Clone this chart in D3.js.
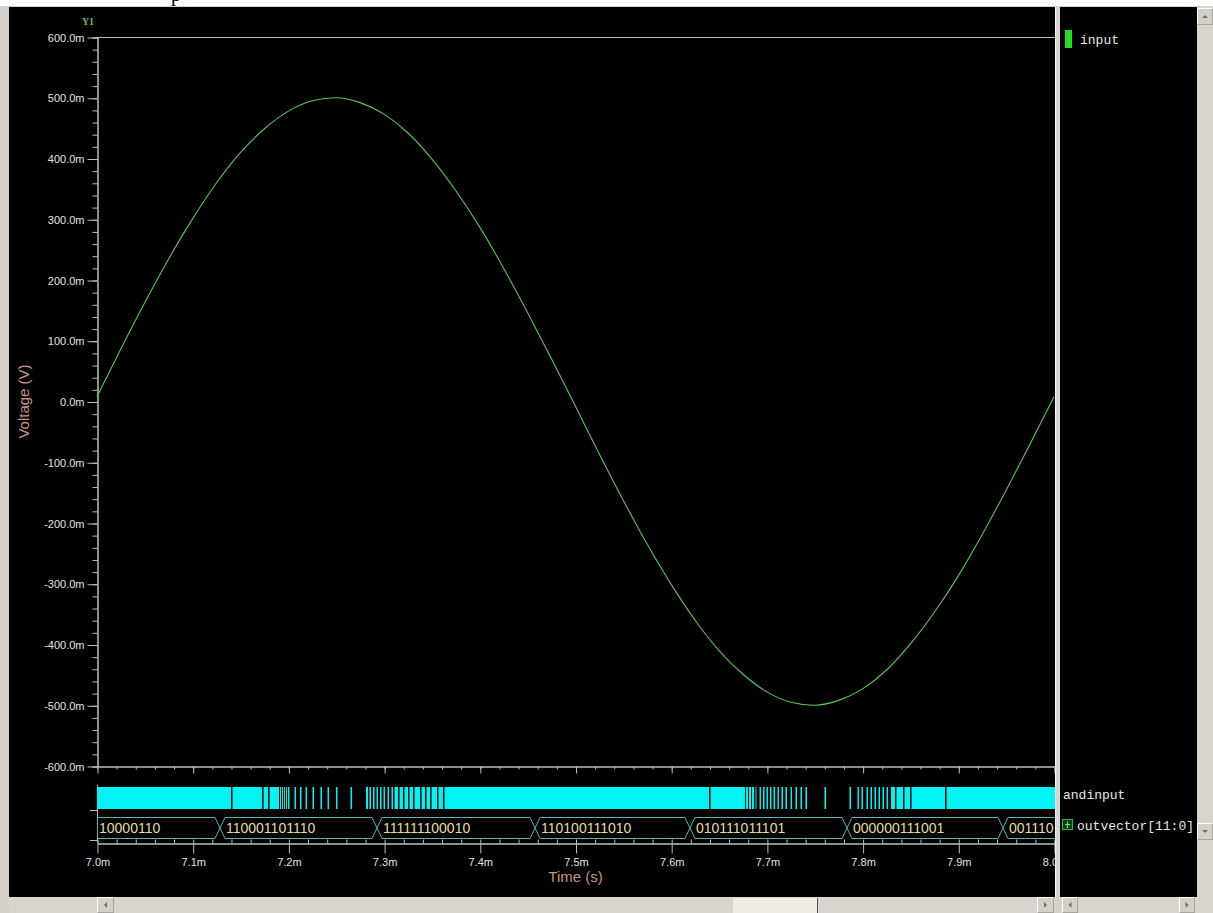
<!DOCTYPE html>
<html>
<head>
<meta charset="utf-8">
<script src="https://cdn.jsdelivr.net/npm/d3@7"></script>
<style>
body { margin: 0; background: #fff; }
svg { display: block; font-family: "Liberation Sans", Arial, sans-serif; }
</style>
</head>
<body>
<div id="chart"></div>
<script>
// analog trace "input" (time in ms, voltage in V)
var timeMs = [7.000, 7.025, 7.050, 7.075, 7.100, 7.125, 7.150, 7.175, 7.200, 7.225,
	7.250, 7.275, 7.300, 7.325, 7.350, 7.375, 7.400, 7.425, 7.450, 7.475,
	7.500, 7.525, 7.550, 7.575, 7.600, 7.625, 7.650, 7.675, 7.700, 7.725,
	7.750, 7.775, 7.800, 7.825, 7.850, 7.875, 7.900, 7.925, 7.950, 7.975, 8.000];
var inputVolts = [0.008, 0.087, 0.163, 0.235, 0.301, 0.360, 0.410, 0.449, 0.478, 0.495,
	0.500, 0.492, 0.473, 0.442, 0.399, 0.347, 0.287, 0.219, 0.146, 0.070,
	-0.008, -0.087, -0.163, -0.235, -0.301, -0.360, -0.410, -0.449, -0.478, -0.495,
	-0.500, -0.492, -0.473, -0.442, -0.399, -0.347, -0.287, -0.219, -0.146, -0.070, 0.008];

// digital "andinput": intervals (ms) where the signal is low, high elsewhere
var andinputLow = [
	[7.1400, 7.1416], [7.1724, 7.1740], [7.1787, 7.1803], [7.1902, 7.1912], [7.1923, 7.1933],
	[7.1944, 7.1954], [7.1964, 7.1975], [7.1985, 7.1996], [7.2011, 7.2064], [7.2079, 7.2121],
	[7.2137, 7.2179], [7.2194, 7.2252], [7.2268, 7.2335], [7.2351, 7.2409], [7.2424, 7.2497],
	[7.2513, 7.2649], [7.2665, 7.2811], [7.2832, 7.2847], [7.2863, 7.2884], [7.2900, 7.2921],
	[7.2936, 7.2957], [7.2973, 7.2994], [7.3009, 7.3036], [7.3051, 7.3077], [7.3093, 7.3109],
	[7.3145, 7.3161], [7.3197, 7.3213], [7.3250, 7.3265], [7.3302, 7.3318], [7.3375, 7.3391],
	[7.3427, 7.3443], [7.3480, 7.3495], [7.3553, 7.3568], [7.3615, 7.3631],
	[7.6395, 7.6411], [7.6771, 7.6781], [7.6803, 7.6813], [7.6834, 7.6844], [7.6865, 7.6881],
	[7.6891, 7.6923], [7.6938, 7.6959], [7.6975, 7.6996], [7.7011, 7.7032], [7.7048, 7.7069],
	[7.7085, 7.7111], [7.7126, 7.7152], [7.7168, 7.7194], [7.7210, 7.7247], [7.7262, 7.7299],
	[7.7315, 7.7351], [7.7367, 7.7403], [7.7419, 7.7602], [7.7618, 7.7863], [7.7879, 7.7947],
	[7.7962, 7.7988], [7.8004, 7.8041], [7.8056, 7.8082], [7.8098, 7.8124], [7.8140, 7.8166],
	[7.8182, 7.8208], [7.8224, 7.8250], [7.8265, 7.8297], [7.8339, 7.8354], [7.8422, 7.8438],
	[7.8495, 7.8511], [7.8861, 7.8877]];

// bus "outvector[11:0]"
var busEdges = [7.1285, 7.2926, 7.4577, 7.6196, 7.7837, 7.9467];
var busValues = ['10000110', '110001101110', '111111100010', '110100111010',
	'010111011101', '000000111001', '001110'];

// axis ticks
var yTicks = [-0.6, -0.5, -0.4, -0.3, -0.2, -0.1, 0, 0.1, 0.2, 0.3, 0.4, 0.5, 0.6];
var xTicks = [7.0, 7.1, 7.2, 7.3, 7.4, 7.5, 7.6, 7.7, 7.8, 7.9, 8.0];

var svgWidth = 1213,
	svgHeight = 913;

var svg = d3.select('#chart').append('svg')
	.attr('width', svgWidth)
	.attr('height', svgHeight);

// window frame
svg.append('rect').attr('width', svgWidth).attr('height', svgHeight).attr('fill', '#fff');
svg.append('text').attr('x', 171).attr('y', 1)
	.style('font-family', '"Liberation Serif", serif').style('font-size', '20px')
	.attr('fill', '#000').text('p');
svg.append('rect').attr('y', 6).attr('width', svgWidth).attr('height', svgHeight - 6).attr('fill', '#d4d0c8');
svg.append('rect').attr('x', 9).attr('y', 7).attr('width', 1046).attr('height', 890).attr('fill', '#000');

svg.append('clipPath').attr('id', 'plotClip')
	.append('rect').attr('x', 9).attr('y', 7).attr('width', 1046).attr('height', 890);

var plot = svg.append('g').attr('clip-path', 'url(#plotClip)');

// scales
var xScale = d3.scaleLinear().domain([7.0, 8.0]).range([97, 1054]);
var yScale = d3.scaleLinear().domain([-0.6, 0.6]).range([766, 37]);

var axisColor = '#bdbdbd',
	labelColor = '#e2e2e2',
	titleColor = '#c99283';

function styleAxis(g) {
	g.selectAll('path').attr('stroke', axisColor);
	g.selectAll('line').attr('stroke', axisColor);
	g.selectAll('text').attr('fill', labelColor).style('font-size', '11px')
		.style('font-family', '"Liberation Sans", Arial, sans-serif');
}

// top border line of the analog pane
plot.append('line')
	.attr('x1', 97).attr('x2', 1055)
	.attr('y1', yScale(0.6) + 0.5).attr('y2', yScale(0.6) + 0.5)
	.attr('stroke', axisColor);

// y axis: minor then major
plot.append('g')
	.attr('transform', 'translate(97.5,0.5)')
	.call(d3.axisLeft(yScale).tickValues(d3.range(-0.6, 0.6001, 0.02)).tickSize(5).tickFormat(''))
	.call(styleAxis);
plot.append('g')
	.attr('transform', 'translate(97.5,0.5)')
	.call(d3.axisLeft(yScale).tickValues(yTicks).tickSize(10).tickSizeOuter(0).tickPadding(3)
		.tickFormat(d => (d * 1000).toFixed(1) + 'm'))
	.call(styleAxis);

// x axis under the analog pane (no labels)
plot.append('g')
	.attr('transform', 'translate(0.5,766.5)')
	.call(d3.axisBottom(xScale).tickValues(d3.range(7.0, 8.0001, 0.02)).tickSize(3).tickSizeOuter(0).tickFormat(''))
	.call(styleAxis);
plot.append('g')
	.attr('transform', 'translate(0.5,766.5)')
	.call(d3.axisBottom(xScale).tickValues(xTicks).tickSize(7).tickSizeOuter(0).tickFormat(''))
	.call(styleAxis);

// sine trace
var line = d3.line()
	.x((d, i) => xScale(timeMs[i]))
	.y(d => yScale(d))
	.curve(d3.curveMonotoneX);

plot.append('path')
	.datum(inputVolts)
	.attr('d', line)
	.attr('fill', 'none')
	.attr('stroke', '#57c657')
	.attr('stroke-width', 1.1);

// digital rows: little y ticks
var digital = plot.append('g');
digital.append('line').attr('x1', 97.5).attr('x2', 97.5).attr('y1', 785).attr('y2', 843).attr('stroke', axisColor);
digital.append('line').attr('x1', 90).attr('x2', 97.5).attr('y1', 810.5).attr('y2', 810.5).attr('stroke', axisColor);
digital.append('line').attr('x1', 90).attr('x2', 97.5).attr('y1', 840.5).attr('y2', 840.5).attr('stroke', axisColor);

// andinput: high intervals drawn in cyan
var bandTop = 787, bandH = 22;
var highs = [];
var start = 7.0;
andinputLow.forEach(p => {
	highs.push([start, p[0]]);
	start = p[1];
});
highs.push([start, 8.05]);

digital.selectAll('rect.high')
	.data(highs)
	.enter()
	.append('rect')
	.classed('high', true)
	.attr('x', d => xScale(d[0]))
	.attr('y', bandTop)
	.attr('width', d => Math.max(0.8, xScale(d[1]) - xScale(d[0])))
	.attr('height', bandH)
	.attr('fill', '#00f4f4');

// outvector bus
var busTop = 817.5, busBot = 838.5, busMid = (busTop + busBot) / 2, slope = 5;
var segs = busValues.map((v, i) => ({
	value: v,
	s: i === 0 ? 7.0 : busEdges[i - 1],
	e: i === busValues.length - 1 ? 8.05 : busEdges[i],
	first: i === 0,
	last: i === busValues.length - 1
}));

digital.selectAll('path.bus')
	.data(segs)
	.enter()
	.append('path')
	.classed('bus', true)
	.attr('d', d => {
		var x0 = xScale(d.s) + (d.first ? 0.5 : 0), x1 = xScale(d.e);
		var p = d3.path();
		if (d.first) {
			p.moveTo(x0, busBot);
			p.lineTo(x0, busTop);
		} else {
			p.moveTo(x0, busMid);
			p.lineTo(x0 + slope, busTop);
		}
		if (d.last) {
			p.lineTo(x1, busTop);
			p.moveTo(x1, busBot);
		} else {
			p.lineTo(x1 - slope, busTop);
			p.lineTo(x1, busMid);
			p.lineTo(x1 - slope, busBot);
		}
		p.lineTo(d.first ? x0 : x0 + slope, busBot);
		if (!d.first) p.lineTo(x0, busMid);
		return p.toString();
	})
	.attr('fill', 'none')
	.attr('stroke', '#57b3b3')
	.attr('stroke-width', 1);

digital.selectAll('text.bus')
	.data(segs)
	.enter()
	.append('text')
	.classed('bus', true)
	.attr('x', d => xScale(d.s) + (d.first ? 2 : slope + 1))
	.attr('y', 832.5)
	.attr('fill', '#e6dca4')
	.style('font-size', '14px')
	.text(d => d.value);

// bottom time axis
plot.append('g')
	.attr('transform', 'translate(0.5,843.5)')
	.call(d3.axisTop(xScale).tickValues(d3.range(7.0, 8.0001, 0.02)).tickSize(4).tickSizeOuter(0).tickFormat(''))
	.call(styleAxis);
plot.append('g')
	.attr('transform', 'translate(0.5,843.5)')
	.call(d3.axisBottom(xScale).tickValues(xTicks).tickSize(10).tickSizeOuter(0).tickPadding(5)
		.tickFormat(d => d.toFixed(1) + 'm'))
	.call(styleAxis);

// titles
svg.append('text')
	.attr('x', 88).attr('y', 25)
	.attr('text-anchor', 'middle')
	.style('font-family', '"Liberation Serif", serif').style('font-size', '10px').style('font-weight', 'bold')
	.attr('fill', '#5fbf5f')
	.text('Y1');

svg.append('text')
	.attr('transform', `translate(29,${yScale(0)})rotate(-90)`)
	.attr('text-anchor', 'middle')
	.style('font-size', '15px')
	.attr('fill', titleColor)
	.text('Voltage (V)');

svg.append('text')
	.attr('x', (xScale(7.0) + xScale(8.0)) / 2)
	.attr('y', 882)
	.attr('text-anchor', 'middle')
	.style('font-size', '15px')
	.attr('fill', titleColor)
	.text('Time (s)');

// divider and signal name panel
svg.append('rect').attr('x', 1055).attr('y', 7).attr('width', 5).attr('height', 890).attr('fill', '#d6d6d6');
svg.append('line').attr('x1', 1055.5).attr('x2', 1055.5).attr('y1', 7).attr('y2', 897).attr('stroke', '#f4f4f4');
svg.append('rect').attr('x', 1060).attr('y', 7).attr('width', 137).attr('height', 890).attr('fill', '#000');

var mono = '"Liberation Mono", "Courier New", monospace';
var names = svg.append('g').style('font-family', mono).style('font-size', '13px').attr('fill', '#e6e6e6');

svg.append('rect').attr('x', 1065).attr('y', 30).attr('width', 7).attr('height', 18).attr('fill', '#22dd22');
names.append('text').attr('x', 1080).attr('y', 44).text('input');
names.append('text').attr('x', 1063).attr('y', 799).text('andinput');
names.append('text').attr('x', 1077).attr('y', 830).text('outvector[11:0]');

svg.append('rect').attr('x', 1062.5).attr('y', 819.5).attr('width', 10).attr('height', 10)
	.attr('fill', '#0b3d12').attr('stroke', '#3fae3f');
svg.append('path').attr('d', 'M1065,824.5H1070.5M1067.5,821.5V828')
	.attr('stroke', '#6ee26e').attr('stroke-width', 1.2);

// scroll bars
var track = '#d8d5ce', btn = '#d4d0c8';

function button(x, y, w, h, dir) {
	var g = svg.append('g');
	g.append('rect').attr('x', x + 0.5).attr('y', y + 0.5).attr('width', w - 1).attr('height', h - 1)
		.attr('fill', btn).attr('stroke', '#a8a59e');
	g.append('path').attr('d', `M${x + 0.5},${y + h - 0.5}V${y + 0.5}H${x + w - 0.5}`)
		.attr('fill', 'none').attr('stroke', '#fff');
	var cx = x + w / 2, cy = y + h / 2, s = 3;
	var pts = {
		up: [[cx - s, cy + 1.5], [cx + s, cy + 1.5], [cx, cy - 1.5]],
		down: [[cx - s, cy - 1.5], [cx + s, cy - 1.5], [cx, cy + 1.5]],
		left: [[cx + 1.5, cy - s], [cx + 1.5, cy + s], [cx - 1.5, cy]],
		right: [[cx - 1.5, cy - s], [cx - 1.5, cy + s], [cx + 1.5, cy]]
	}[dir];
	g.append('polygon').attr('points', pts.map(p => p.join(',')).join(' ')).attr('fill', '#707070');
}

// vertical
svg.append('rect').attr('x', 1197).attr('y', 7).attr('width', 16).attr('height', 906).attr('fill', track);
button(1197, 8, 16, 17, 'up');
button(1197, 823, 16, 17, 'down');

// horizontal, main pane
svg.append('rect').attr('x', 9).attr('y', 897).attr('width', 1046).attr('height', 16).attr('fill', track);
button(97, 897, 17, 16, 'left');
button(1037, 897, 17, 16, 'right');
svg.append('rect').attr('x', 733).attr('y', 898).attr('width', 84).attr('height', 15).attr('fill', '#edebe3');
svg.append('line').attr('x1', 817.5).attr('x2', 817.5).attr('y1', 898).attr('y2', 913).attr('stroke', '#555');

// horizontal, name pane
svg.append('rect').attr('x', 1060).attr('y', 897).attr('width', 137).attr('height', 16).attr('fill', track);
button(1062, 897, 16, 16, 'left');
button(1179, 897, 16, 16, 'right');
</script>
</body>
</html>
